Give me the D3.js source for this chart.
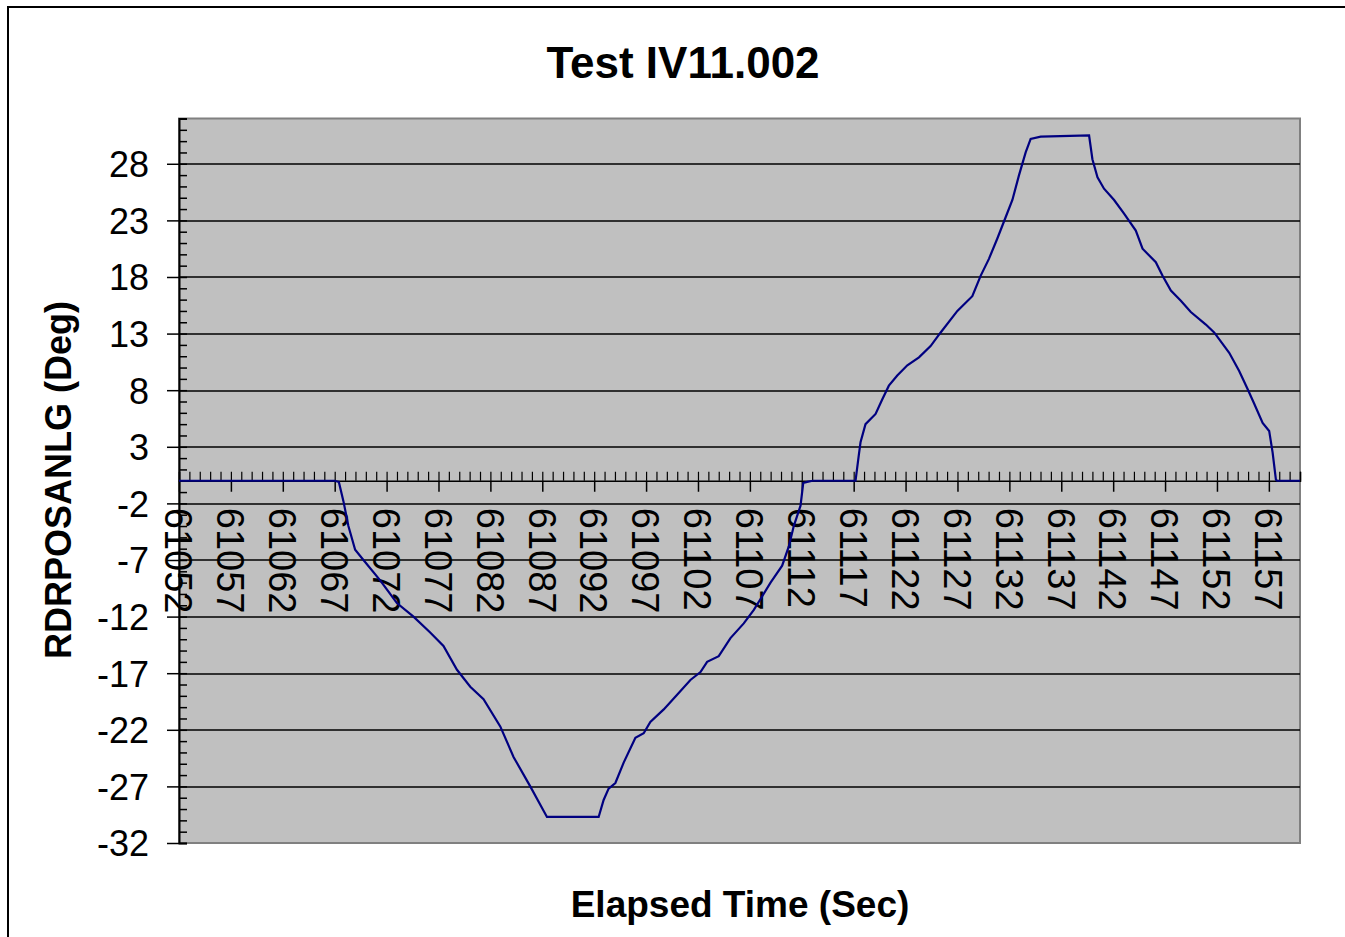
<!DOCTYPE html>
<html>
<head>
<meta charset="utf-8">
<script src="https://cdn.jsdelivr.net/npm/d3@7"></script>
<style>
  body { margin: 0; background: #fff; overflow: hidden; }
  svg { display: block; }
  text { font-family: "Liberation Sans", Arial, sans-serif; }
</style>
</head>
<body>
<div id="wrapper"></div>
<script>
// data
const elapsedTime = [61052, 61067.0, 61067.4, 61067.84, 61068.32, 61068.97, 61069.77, 61071.38, 61072.99, 61074.59,
  61076.2, 61077.48, 61078.78, 61080.06, 61081.34, 61082.95, 61084.23, 61085.84, 61087.45, 61092.43,
  61092.91, 61093.39, 61094.04, 61094.84, 61095.97, 61096.77, 61097.41, 61098.7, 61099.99, 61101.27,
  61102.24, 61102.88, 61104.0, 61105.13, 61106.41, 61107.38, 61108.19, 61108.99, 61110.11, 61110.75,
  61111.23, 61111.88, 61112.14, 61112.52, 61113.04, 61117.18, 61117.5, 61117.66, 61118.14, 61119.11,
  61119.76, 61120.39, 61121.2, 61122.17, 61123.29, 61124.41, 61125.38, 61126.99, 61128.43, 61129.23,
  61130.03, 61130.84, 61131.65, 61132.29, 61132.93, 61133.57, 61134.05, 61135.02, 61139.68, 61140.0,
  61140.49, 61141.12, 61142.09, 61143.05, 61144.18, 61144.83, 61146.11, 61146.76, 61147.56, 61148.52,
  61149.48, 61150.93, 61151.73, 61153.18, 61154.14, 61154.95, 61155.59, 61156.4, 61157.03, 61157.36,
  61157.68, 61157.8, 61160]
const rdrPosAnlg = [0, 0, -0.1, -1.8, -4.0, -6.1, -7.0, -8.8, -10.8, -12.0,
  -13.4, -14.6, -16.7, -18.2, -19.3, -21.7, -24.4, -27.0, -29.7, -29.7,
  -28.2, -27.2, -26.7, -24.9, -22.7, -22.3, -21.3, -20.2, -18.9, -17.6,
  -16.9, -16.0, -15.5, -13.9, -12.6, -11.4, -10.2, -9.0, -7.5, -5.8,
  -4.0, -2.2, -0.2, -0.1, 0, 0, 2.3, 3.4, 5.0, 5.9,
  7.2, 8.4, 9.3, 10.2, 10.9, 11.9, 13.1, 15.0, 16.3, 18.1,
  19.6, 21.4, 23.3, 24.8, 27.0, 29.0, 30.2, 30.4, 30.5, 28.4,
  26.8, 25.8, 24.8, 23.6, 22.1, 20.5, 19.3, 18.1, 16.8, 15.9,
  14.9, 13.8, 13.1, 11.3, 9.7, 8.1, 6.8, 5.1, 4.4, 2.5,
  0.1, 0, 0]

const xTickLabels = [61052, 61057, 61062, 61067, 61072, 61077, 61082, 61087, 61092, 61097, 61102,
  61107, 61112, 61117, 61122, 61127, 61132, 61137, 61142, 61147, 61152, 61157]
const xMinorTicks = d3.range(61052, 61161, 1)
const yTickLabels = [-32, -27, -22, -17, -12, -7, -2, 3, 8, 13, 18, 23, 28]
const yMinorTicks = d3.range(-32, 33, 1)

const chartTitle = "Test IV11.002"
const xTitle = "Elapsed Time (Sec)"
const yTitle = "RDRPOSANLG (Deg)"

const data = elapsedTime.map((t, i) => ({ t, v: rdrPosAnlg[i] }))
const xAccessor = d => d.t
const yAccessor = d => d.v

// Dimensions
let dimensions = {
    width: 1345,
    height: 937,
    margins: { top: 118.5, right: 45, bottom: 94, left: 179 }
}
dimensions.boundedWidth = dimensions.width - dimensions.margins.left - dimensions.margins.right
dimensions.boundedHeight = dimensions.height - dimensions.margins.top - dimensions.margins.bottom

const svg = d3.select("#wrapper")
    .append("svg")
        .attr("width", dimensions.width)
        .attr("height", dimensions.height)

// outer chart border (only top/left are in view)
svg.append("rect")
    .attr("x", 8).attr("y", 7)
    .attr("width", 1400).attr("height", 1000)
    .attr("fill", "#fff")
    .attr("stroke", "#000")
    .attr("stroke-width", 2)

const bounds = svg.append("g")
    .attr("transform", `translate(${dimensions.margins.left},${dimensions.margins.top})`)

// Scales
const xScale = d3.scaleLinear()
    .domain([61052, 61160])
    .range([0, dimensions.boundedWidth])
const yScale = d3.scaleLinear()
    .domain([-32, 32])
    .range([dimensions.boundedHeight, 0])

// plot area
bounds.append("rect")
    .attr("width", dimensions.boundedWidth)
    .attr("height", dimensions.boundedHeight)
    .attr("fill", "#c0c0c0")
    .attr("stroke", "#808080")
    .attr("stroke-width", 2)

// gridlines
bounds.append("g")
    .selectAll("line")
    .data(yTickLabels.filter(d => d > -32))
    .join("line")
        .attr("x1", 0)
        .attr("x2", dimensions.boundedWidth)
        .attr("y1", d => Math.round(yScale(d)) + 0.5)
        .attr("y2", d => Math.round(yScale(d)) + 0.5)
        .attr("stroke", "#000")
        .attr("stroke-width", 1.3)

// y axis: major ticks outside, minor inside
const yMajor = bounds.append("g")
    .call(d3.axisLeft(yScale).tickValues(yTickLabels).tickSize(12).tickPadding(18)
        .tickFormat(d => String(d)))
const yMinor = bounds.append("g")
    .call(d3.axisRight(yScale).tickValues(yMinorTicks).tickSize(8).tickFormat(""))
yMajor.select(".domain").remove()
yMinor.select(".domain").attr("stroke-width", 2)
yMajor.selectAll(".tick line").attr("stroke-width", 1.5)
yMinor.selectAll(".tick line").attr("stroke-width", 1.5)
yMajor.selectAll("text")
    .style("font-size", "36px")
    .attr("fill", "#000")
    .attr("dy", "0.36em")

// x axis crossing at 0
const xAxisY = yScale(0)
const xMajor = bounds.append("g")
    .attr("transform", `translate(0,${xAxisY})`)
    .call(d3.axisBottom(xScale).tickValues(xTickLabels).tickSize(11).tickFormat(""))
const xMinor = bounds.append("g")
    .attr("transform", `translate(0,${xAxisY})`)
    .call(d3.axisTop(xScale).tickValues(xMinorTicks).tickSize(9).tickFormat(""))
xMajor.select(".domain").remove()
xMinor.select(".domain").attr("stroke-width", 1.5)
xMajor.selectAll(".tick line").attr("stroke-width", 1.5)
xMinor.selectAll(".tick line").attr("stroke-width", 1.2)

// rotated x tick labels
bounds.append("g")
    .selectAll("text")
    .data(xTickLabels)
    .join("text")
        .attr("transform", d => `translate(${xScale(d)},${xAxisY + 27}) rotate(90)`)
        .attr("dy", "0.36em")
        .style("font-size", "38px")
        .text(d => d)

// line
const lineGenerator = d3.line()
    .x(d => xScale(xAccessor(d)))
    .y(d => yScale(yAccessor(d)))
bounds.append("path")
    .attr("d", lineGenerator(data))
    .attr("fill", "none")
    .attr("stroke", "#000080")
    .attr("stroke-width", 2.2)

// titles
svg.append("text")
    .attr("x", 683).attr("y", 78)
    .attr("text-anchor", "middle")
    .style("font-size", "44px").style("font-weight", "bold")
    .text(chartTitle)
svg.append("text")
    .attr("x", 740).attr("y", 917)
    .attr("text-anchor", "middle")
    .style("font-size", "37px").style("font-weight", "bold")
    .text(xTitle)
svg.append("text")
    .attr("transform", "translate(71,480) rotate(-90)")
    .attr("text-anchor", "middle")
    .style("font-size", "36px").style("font-weight", "bold")
    .text(yTitle)
</script>
</body>
</html>
